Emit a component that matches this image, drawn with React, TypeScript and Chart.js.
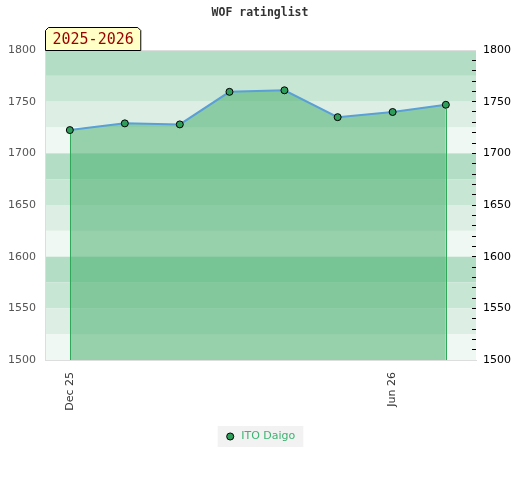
import React, { useEffect, useRef } from "react";
import { Chart, registerables } from "chart.js";

Chart.register(...registerables);

// ---- data ----
const dates = [
  "2025-12-01",
  "2026-01-01",
  "2026-02-01",
  "2026-03-01",
  "2026-04-01",
  "2026-05-01",
  "2026-06-01",
  "2026-07-01",
];
const ratings = [1722.5, 1729, 1728, 1759.5, 1761, 1735, 1740, 1747];
const seriesName = "ITO Daigo";
const tickDates = ["2025-12-01", "2026-06-01"];
const tickLabels = ["Dec 25", "Jun 26"];
const periodLabel = "2025-2026";
const chartTitle = "WOF ratinglist";
const yMin = 1500;
const yMax = 1800;
const xMinDate = "2025-11-17";
const xMaxDate = "2026-07-18";

const DAY = 86400000;
const base = Date.parse(dates[0]);
const toDay = (d: string) => (Date.parse(d) - base) / DAY;

const bandColors = ["#b3dec5", "#c8e6d4", "#ddefe4", "#f0f8f3"];

const bandsPlugin = {
  id: "bands",
  beforeDraw(chart: any) {
    const { ctx, chartArea } = chart;
    const y = chart.scales.y;
    ctx.save();
    let i = 0;
    for (let v = yMax; v > yMin; v -= 25) {
      const top = y.getPixelForValue(v);
      const bot = y.getPixelForValue(v - 25);
      ctx.fillStyle = bandColors[i % 4];
      ctx.fillRect(chartArea.left, top, chartArea.right - chartArea.left, bot - top);
      i++;
    }
    // legend background
    const hb = chart.legend && chart.legend.legendHitBoxes && chart.legend.legendHitBoxes[0];
    if (hb) {
      ctx.fillStyle = "#f2f2f2";
      ctx.fillRect(hb.left - 7, hb.top - 5, hb.width + 15, hb.height + 10);
    }
    ctx.restore();
  },
};

const edgesPlugin = {
  id: "edges",
  afterDatasetsDraw(chart: any) {
    const { ctx, chartArea } = chart;
    const meta = chart.getDatasetMeta(0);
    const pts = meta.data;
    if (!pts.length) return;
    ctx.save();
    ctx.strokeStyle = "#30a85a";
    ctx.lineWidth = 1;
    [pts[0], pts[pts.length - 1]].forEach((p: any) => {
      const x = Math.round(p.x) + 0.5;
      ctx.beginPath();
      ctx.moveTo(x, p.y + 4);
      ctx.lineTo(x, chartArea.bottom);
      ctx.stroke();
    });
    ctx.restore();
  },
};

const periodPlugin = {
  id: "period",
  afterDraw(chart: any) {
    const { ctx, chartArea } = chart;
    ctx.save();
    ctx.font = "15px 'DejaVu Sans Mono'";
    const tw = ctx.measureText(periodLabel).width;
    const left = chartArea.left + 0.5;
    const right = left + tw + 14;
    const bottom = chartArea.top + 0.5;
    const top = bottom - 23;
    const c = 3;
    ctx.beginPath();
    ctx.moveTo(left, bottom);
    ctx.lineTo(left, top + c);
    ctx.lineTo(left + c, top);
    ctx.lineTo(right - c, top);
    ctx.lineTo(right, top + c);
    ctx.lineTo(right, bottom);
    ctx.closePath();
    ctx.fillStyle = "#ffffc6";
    ctx.fill();
    ctx.strokeStyle = "#000";
    ctx.lineWidth = 1;
    ctx.stroke();
    ctx.fillStyle = "#990000";
    ctx.textAlign = "center";
    ctx.textBaseline = "middle";
    ctx.fillText(periodLabel, (left + right) / 2, (top + bottom) / 2 + 1);
    ctx.restore();
  },
};

export default function App() {
  const ref = useRef<HTMLCanvasElement | null>(null);
  useEffect(() => {
    document.body.style.margin = "0";
    if (!ref.current) return;
    const tickDays = tickDates.map(toDay);
    const chart = new Chart(ref.current, {
      type: "line",
      data: {
        datasets: [
          {
            label: seriesName,
            data: dates.map((d, i) => ({ x: toDay(d), y: ratings[i] })),
            borderColor: "#5a9fd6",
            borderWidth: 2,
            backgroundColor: "rgba(60,170,100,0.5)",
            fill: "start",
            tension: 0,
            pointRadius: 3.5,
            pointBorderWidth: 1,
            pointBackgroundColor: "#2e9e5a",
            pointBorderColor: "#000",
          },
        ],
      },
      options: {
        animation: false,
        responsive: false,
        layout: { padding: { top: 0, left: 0, right: 0, bottom: 28 } },
        plugins: {
          title: {
            display: true,
            text: chartTitle,
            color: "#333",
            font: { family: "'DejaVu Sans Mono'", size: 11.5, weight: "bold" },
            padding: { top: 6, bottom: 30.2 },
          },
          legend: {
            position: "bottom",
            labels: {
              usePointStyle: true,
              pointStyle: "circle",
              boxWidth: 12,
              boxHeight: 5,
              color: "#3cb371",
              padding: 10,
              font: { family: "'DejaVu Sans'", size: 11 },
            },
          },
          tooltip: { enabled: false },
        },
        scales: {
          x: {
            type: "linear",
            min: toDay(xMinDate),
            max: toDay(xMaxDate),
            afterBuildTicks: (axis: any) => {
              axis.ticks = tickDays.map((v) => ({ value: v }));
            },
            afterFit: (axis: any) => {
              axis.height = 61;
            },
            ticks: {
              autoSkip: false,
              minRotation: 90,
              maxRotation: 90,
              padding: 12,
              color: "#333",
              font: { family: "'DejaVu Sans'", size: 11 },
              callback: (v: any) => {
                const i = tickDays.indexOf(Number(v));
                return i >= 0 ? tickLabels[i] : "";
              },
            },
            grid: { display: false, drawTicks: false },
            border: { display: true, color: "#dddddd" },
          },
          y: {
            position: "left",
            min: yMin,
            max: yMax,
            afterFit: (axis: any) => {
              axis.width = 45;
            },
            ticks: {
              stepSize: 50,
              padding: 9,
              color: "#555",
              font: { family: "'DejaVu Sans'", size: 11 },
              callback: (v: any) => String(v),
            },
            grid: {
              drawTicks: false,
              color: (c: any) => (c.tick && c.tick.value === yMax ? "#dddddd" : "rgba(0,0,0,0)"),
            },
            border: { display: true, color: "#dddddd" },
          },
          y2: {
            position: "right",
            min: yMin,
            max: yMax,
            afterFit: (axis: any) => {
              axis.width = 44;
            },
            ticks: {
              stepSize: 10,
              autoSkip: false,
              padding: 11,
              color: "#000",
              font: { family: "'DejaVu Sans'", size: 11 },
              callback: (v: any) => (Number(v) % 50 === 0 ? String(v) : ""),
            },
            grid: {
              drawOnChartArea: false,
              tickLength: -4,
              tickWidth: 1,
              tickColor: (c: any) =>
                c.tick && (c.tick.value === yMax || c.tick.value === yMin) ? "rgba(0,0,0,0)" : "#000",
            },
            border: { display: false },
          },
        },
      },
      plugins: [bandsPlugin, edgesPlugin, periodPlugin],
    } as any);
    return () => chart.destroy();
  }, []);
  return (
    <div style={{ width: 520, height: 480 }}>
      <canvas ref={ref} width={520} height={480} />
    </div>
  );
}
